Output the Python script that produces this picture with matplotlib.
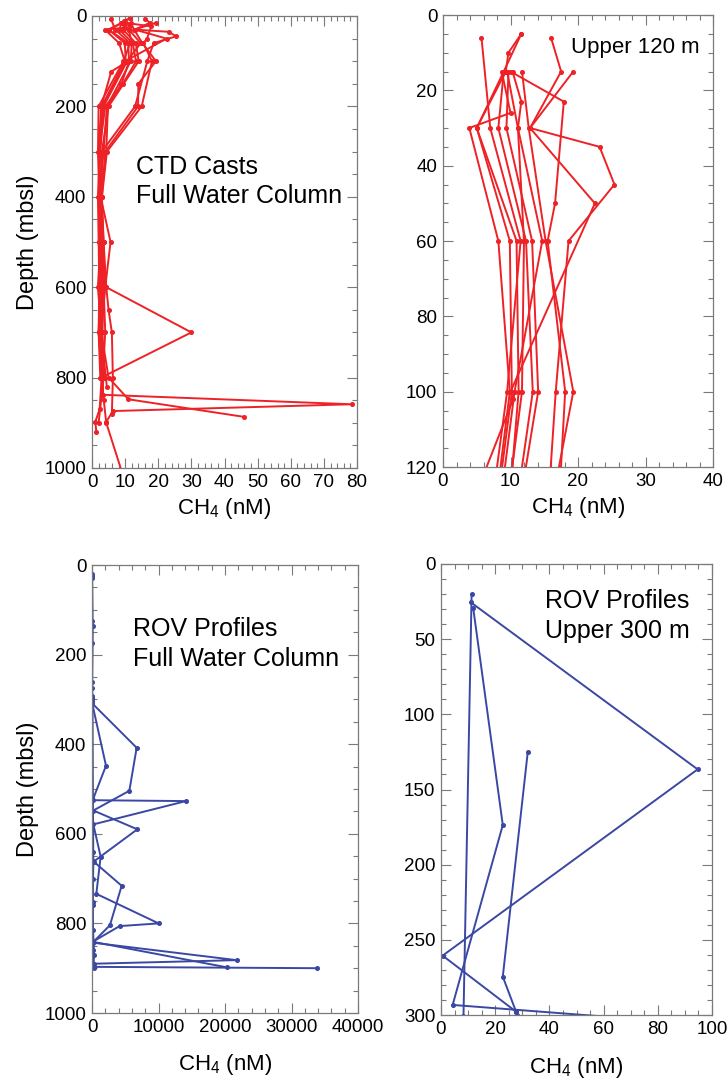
import matplotlib
matplotlib.use('Agg')
import matplotlib.pyplot as plt
from matplotlib.ticker import MultipleLocator

plt.rcParams['font.family'] = ['Liberation Sans', 'DejaVu Sans']
plt.rcParams['mathtext.fontset'] = 'custom'
plt.rcParams['mathtext.rm'] = 'Liberation Sans'
plt.rcParams['mathtext.it'] = 'Liberation Sans:italic'

# ---------------- CTD casts (depth m, CH4 nM) ----------------
cast01_depth = [6, 30, 60, 100, 200, 300, 400, 500, 600, 700, 800, 870, 898, 920]
cast01_ch4 = [5.7, 7.0, 11.5, 9.5, 2.0, 1.8, 2.2, 2.5, 1.8, 2.8, 2.9, 2.3, 1.0, 1.3]
cast02_depth = [5, 10, 15, 30, 60, 100, 150, 200, 300, 400, 500, 600, 650, 700, 800, 880]
cast02_ch4 = [11.6, 9.7, 9.3, 5.0, 10.9, 11.2, 8.9, 4.8, 4.3, 2.8, 3.5, 4.3, 5.0, 6.0, 6.3, 6.0]
cast03_depth = [6, 15, 30, 35, 45, 60, 100, 200, 300, 400, 500, 600, 700, 800, 838, 859, 874, 898]
cast03_ch4 = [16.0, 17.5, 12.9, 23.2, 25.4, 18.6, 16.7, 13.0, 3.0, 2.5, 3.0, 3.5, 4.0, 3.2, 3.3, 78.4, 6.3, 4.3]
cast04_depth = [15, 30, 50, 100, 102, 123, 200, 300, 400, 500, 600, 700, 800, 848, 887]
cast04_ch4 = [19.3, 12.9, 22.5, 10.0, 10.4, 5.8, 2.8, 2.0, 2.6, 5.6, 4.0, 2.8, 5.0, 11.0, 46.0]
cast05_depth = [15, 26, 30, 60, 100, 200, 300, 400, 500, 600, 700, 800, 900, 1100]
cast05_ch4 = [8.7, 10.0, 3.9, 8.2, 9.9, 3.0, 2.0, 2.5, 2.8, 4.3, 30.0, 2.8, 4.3, 13.0]
cast06_depth = [15, 30, 60, 100, 150, 200, 300, 400, 500, 600, 700, 800, 900]
cast06_ch4 = [9.0, 8.2, 12.3, 13.3, 9.3, 4.0, 2.2, 2.0, 2.5, 2.0, 2.5, 3.5, 2.0]
cast07_depth = [15, 30, 60, 100, 200, 300, 400, 500, 600, 700, 800]
cast07_ch4 = [9.7, 9.4, 13.2, 14.1, 5.0, 3.0, 3.0, 3.2, 3.0, 3.0, 4.0]
cast08_depth = [15, 23, 30, 60, 100, 200, 300, 400, 500, 600, 700, 820]
cast08_ch4 = [10.3, 11.6, 11.1, 14.7, 10.6, 3.5, 2.5, 2.0, 2.2, 2.4, 2.6, 4.5]
cast09_depth = [15, 30, 60, 100, 150, 200, 300, 400, 500, 600, 700, 800]
cast09_ch4 = [11.7, 12.7, 15.2, 19.3, 14.0, 13.9, 4.0, 3.0, 3.5, 3.8, 3.0, 3.0]
cast10_depth = [5, 15, 30, 60, 100, 200, 300, 400, 500, 600, 700, 800, 850]
cast10_ch4 = [11.6, 9.0, 5.0, 9.9, 10.2, 3.0, 2.4, 1.8, 2.0, 2.2, 2.0, 3.0, 3.5]
cast11_depth = [15, 23, 50, 60, 100, 200, 300, 400, 500, 600, 700, 800]
cast11_ch4 = [10.0, 17.9, 16.6, 15.5, 18.1, 15.0, 4.5, 3.0, 2.8, 2.5, 2.0, 2.5]
cast12_depth = [15, 30, 60, 100, 200, 300, 400, 500, 600, 700, 800]
cast12_ch4 = [9.5, 11.1, 12.0, 11.7, 4.5, 3.5, 2.3, 2.6, 3.0, 3.2, 3.0]

# ---------------- ROV profiles (depth m, CH4 nM) ----------------
rov1_depth = [20.2, 300.7, 309, 408, 504, 548, 590, 662, 716, 804, 843, 882, 890]
rov1_ch4 = [11.3, 8.3, 40, 6717, 5614, 200, 6817, 250, 4460, 2700, 100, 21750, 300]
rov2_depth = [25.5, 136.6, 260.5, 297.8, 309, 448, 525, 527, 579, 651, 734, 800, 806, 841, 898]
rov2_ch4 = [11.0, 94.7, 0.6, 27.7, 30, 2105, 100, 14135, 200, 1300, 650, 10025, 4160, 100, 20250]
rov3_depth = [29.5, 173.6, 293.3, 301, 520, 640, 700, 752, 815, 870, 897, 900]
rov3_ch4 = [11.9, 22.8, 4.3, 60, 50, 100, 80, 100, 150, 300, 100, 33885]
rov4_depth = [125.3, 274.5, 297.8, 660, 760, 860, 900]
rov4_ch4 = [32.0, 22.8, 27.7, 200, 100, 200, 300]

ctd_casts = [(cast01_ch4, cast01_depth), (cast02_ch4, cast02_depth), (cast03_ch4, cast03_depth),
             (cast04_ch4, cast04_depth), (cast05_ch4, cast05_depth), (cast06_ch4, cast06_depth),
             (cast07_ch4, cast07_depth), (cast08_ch4, cast08_depth), (cast09_ch4, cast09_depth),
             (cast10_ch4, cast10_depth), (cast11_ch4, cast11_depth), (cast12_ch4, cast12_depth)]
rov_profiles = [(rov1_ch4, rov1_depth), (rov2_ch4, rov2_depth), (rov3_ch4, rov3_depth), (rov4_ch4, rov4_depth)]

RED = '#EE2226'
BLUE = '#3A48A4'
GRAY = '#7a7a7a'

W, H = 727, 1088
fig = plt.figure(figsize=(7.27, 10.88), dpi=100)


def ax_at(l, t, r, b):
    return fig.add_axes([l / W, 1 - b / H, (r - l) / W, (b - t) / H])


def style(ax, xmaj, xmin, ymaj, ymin):
    ax.xaxis.set_major_locator(MultipleLocator(xmaj))
    ax.xaxis.set_minor_locator(MultipleLocator(xmin))
    ax.yaxis.set_major_locator(MultipleLocator(ymaj))
    ax.yaxis.set_minor_locator(MultipleLocator(ymin))
    ax.tick_params(which='both', direction='in', top=True, right=True, color=GRAY, width=0.8)
    ax.tick_params(which='major', length=7, labelsize=13.5, pad=4)
    ax.tick_params(which='minor', length=3.5)
    for s in ax.spines.values():
        s.set_color(GRAY)
        s.set_linewidth(0.9)


ax1 = ax_at(92, 16, 357, 468)
ax2 = ax_at(443, 15, 713, 467)
ax3 = ax_at(92, 565, 358, 1013)
ax4 = ax_at(441, 564, 712, 1015)

for ax in (ax1, ax2):
    for c, d in ctd_casts:
        ax.plot(c, d, '-o', color=RED, lw=1.4, ms=2.6)
for ax in (ax3, ax4):
    for c, d in rov_profiles:
        ax.plot(c, d, '-o', color=BLUE, lw=1.4, ms=2.6)

ax1.set_xlim(0, 80); ax1.set_ylim(1000, 0)
ax2.set_xlim(0, 40); ax2.set_ylim(120, 0)
ax3.set_xlim(0, 40000); ax3.set_ylim(1000, 0)
ax4.set_xlim(0, 100); ax4.set_ylim(300, 0)

style(ax1, 10, 2, 200, 50)
style(ax2, 10, 2, 20, 5)
style(ax3, 10000, 2000, 200, 50)
style(ax4, 20, 5, 50, 10)

xlab = r'CH$_4$ (nM)'
for ax in (ax1, ax2):
    ax.set_xlabel(xlab, fontsize=16)
    ax.xaxis.set_label_coords(0.5, -0.062)
for ax in (ax3, ax4):
    ax.set_xlabel(xlab, fontsize=16)
    ax.xaxis.set_label_coords(0.5, -0.088)
for ax in (ax1, ax3):
    ax.set_ylabel('Depth (mbsl)', fontsize=17)
    ax.yaxis.set_label_coords(-0.2, 0.5)

ax1.text(0.165, 0.634, 'CTD Casts\nFull Water Column', transform=ax1.transAxes,
         fontsize=18, va='center', ha='left', linespacing=1.3)
ax2.text(0.952, 0.929, 'Upper 120 m', transform=ax2.transAxes,
         fontsize=16, va='center', ha='right')
ax3.text(0.154, 0.824, 'ROV Profiles\nFull Water Column', transform=ax3.transAxes,
         fontsize=18, va='center', ha='left', linespacing=1.3)
ax4.text(0.384, 0.885, 'ROV Profiles\nUpper 300 m', transform=ax4.transAxes,
         fontsize=18, va='center', ha='left', linespacing=1.3)

fig.savefig('out.png', dpi=100)
